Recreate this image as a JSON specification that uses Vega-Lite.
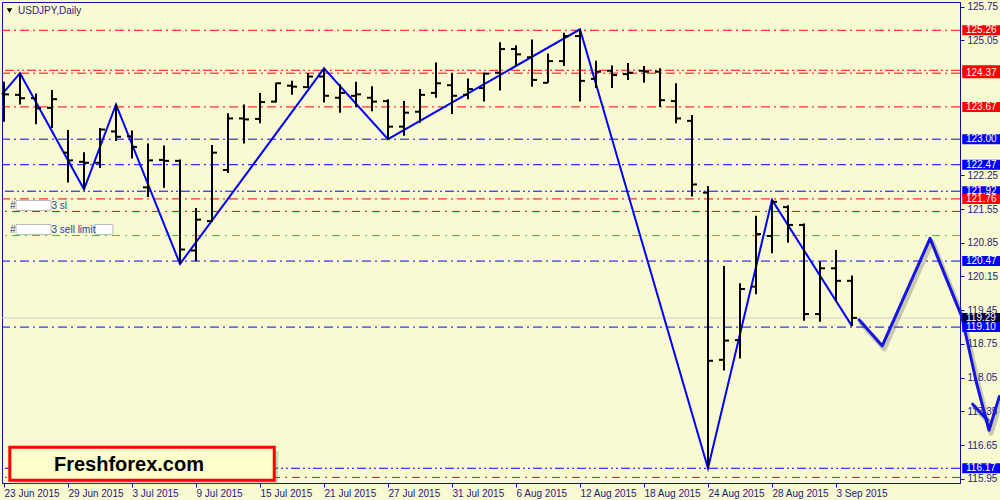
{
"$schema": "https://vega.github.io/schema/vega-lite/v6.json",
"width": 958, "height": 481,
"autosize": {"type": "none"},
"padding": {"left": 2, "top": 2, "right": 40, "bottom": 17},
"background": "#FAFAD2",
"config": {
  "view": {"stroke": "#1010A8", "fill": "#FAFAD2"},
  "axis": {"labelFont": "Liberation Sans", "labelFontSize": 10, "labelColor": "#22227A", "domainColor": "#1010A8", "tickColor": "#1010A8", "grid": false, "tickSize": 4}
},
"datasets": {
  "bars": [
    {"i":0,"o":123.95,"h":124.19,"l":123.36,"c":123.93},
    {"i":1,"o":123.92,"h":124.37,"l":123.72,"c":123.85},
    {"i":2,"o":123.85,"h":123.95,"l":123.31,"c":123.64},
    {"i":3,"o":123.65,"h":124.02,"l":123.23,"c":123.83},
    {"i":4,"o":122.72,"h":123.19,"l":122.10,"c":122.56},
    {"i":5,"o":122.53,"h":122.73,"l":121.96,"c":122.51},
    {"i":6,"o":122.51,"h":123.23,"l":122.40,"c":123.20},
    {"i":7,"o":123.16,"h":123.72,"l":122.96,"c":123.05},
    {"i":8,"o":123.06,"h":123.18,"l":122.60,"c":122.84},
    {"i":9,"o":122.00,"h":122.91,"l":121.80,"c":122.56},
    {"i":10,"o":122.57,"h":122.87,"l":121.99,"c":122.55},
    {"i":11,"o":122.55,"h":122.58,"l":120.41,"c":120.71},
    {"i":12,"o":120.69,"h":121.57,"l":120.47,"c":121.33},
    {"i":13,"o":121.30,"h":122.88,"l":121.28,"c":122.72},
    {"i":14,"o":122.36,"h":123.54,"l":122.30,"c":123.43},
    {"i":15,"o":123.43,"h":123.72,"l":122.91,"c":123.41},
    {"i":16,"o":123.42,"h":123.96,"l":123.33,"c":123.77},
    {"i":17,"o":123.78,"h":124.17,"l":123.76,"c":124.16},
    {"i":18,"o":124.11,"h":124.21,"l":123.92,"c":124.09},
    {"i":19,"o":124.08,"h":124.37,"l":124.06,"c":124.30},
    {"i":20,"o":124.30,"h":124.47,"l":123.76,"c":123.90},
    {"i":21,"o":123.86,"h":124.14,"l":123.55,"c":123.96},
    {"i":22,"o":123.90,"h":124.19,"l":123.67,"c":123.93},
    {"i":23,"o":123.86,"h":124.10,"l":123.58,"c":123.78},
    {"i":24,"o":123.79,"h":123.83,"l":123.00,"c":123.26},
    {"i":25,"o":123.26,"h":123.79,"l":123.07,"c":123.55},
    {"i":26,"o":123.57,"h":124.04,"l":123.34,"c":123.92},
    {"i":27,"o":123.96,"h":124.59,"l":123.86,"c":124.16},
    {"i":28,"o":124.12,"h":124.37,"l":123.52,"c":123.90},
    {"i":29,"o":123.92,"h":124.26,"l":123.83,"c":124.04},
    {"i":30,"o":124.06,"h":124.38,"l":123.78,"c":124.36},
    {"i":31,"o":124.38,"h":125.01,"l":124.01,"c":124.87},
    {"i":32,"o":124.87,"h":124.95,"l":124.52,"c":124.76},
    {"i":33,"o":124.70,"h":125.07,"l":124.09,"c":124.23},
    {"i":34,"o":124.17,"h":124.78,"l":124.17,"c":124.62},
    {"i":35,"o":124.62,"h":125.21,"l":124.52,"c":125.14},
    {"i":36,"o":125.14,"h":125.28,"l":123.78,"c":124.21},
    {"i":37,"o":124.25,"h":124.63,"l":124.06,"c":124.40},
    {"i":38,"o":124.42,"h":124.53,"l":124.06,"c":124.33},
    {"i":39,"o":124.35,"h":124.58,"l":124.23,"c":124.38},
    {"i":40,"o":124.42,"h":124.52,"l":124.17,"c":124.40},
    {"i":41,"o":124.40,"h":124.47,"l":123.67,"c":123.81},
    {"i":42,"o":123.79,"h":124.16,"l":123.33,"c":123.43},
    {"i":43,"o":123.38,"h":123.50,"l":121.81,"c":122.06},
    {"i":44,"o":121.89,"h":122.03,"l":116.17,"c":118.40},
    {"i":45,"o":118.42,"h":120.37,"l":118.20,"c":118.82},
    {"i":46,"o":118.83,"h":120.01,"l":118.45,"c":119.89},
    {"i":47,"o":119.94,"h":121.41,"l":119.78,"c":121.03},
    {"i":48,"o":120.99,"h":121.74,"l":120.63,"c":121.70},
    {"i":49,"o":121.59,"h":121.63,"l":120.85,"c":121.22},
    {"i":50,"o":121.22,"h":121.25,"l":119.23,"c":119.37},
    {"i":51,"o":119.37,"h":120.46,"l":119.21,"c":120.32},
    {"i":52,"o":120.32,"h":120.70,"l":119.63,"c":120.06},
    {"i":53,"o":120.06,"h":120.17,"l":119.12,"c":119.29}
  ],
  "zz": [
    {"i":-0.125,"p":123.93},{"i":1,"p":124.37},{"i":5,"p":121.96},{"i":7,"p":123.72},
    {"i":11,"p":120.41},{"i":20,"p":124.47},{"i":24,"p":123.00},{"i":36,"p":125.28},
    {"i":44,"p":116.17},{"i":48,"p":121.74},{"i":53,"p":119.12}
  ],
  "proj": [
    {"k":1,"seg":"main","i":53.44,"p":119.25},
    {"k":2,"seg":"main","i":54.89,"p":118.71},
    {"k":3,"seg":"main","i":57.88,"p":120.94},
    {"k":4,"seg":"main","i":59.86,"p":119.32},
    {"k":5,"seg":"main","i":60.79,"p":117.93},
    {"k":6,"seg":"main","i":61.56,"p":116.96},
    {"k":7,"seg":"main","i":62.21,"p":117.66},
    {"k":1,"seg":"arm","i":60.54,"p":117.50},
    {"k":2,"seg":"arm","i":61.46,"p":117.17}
  ],
  "levels": [
    {"p":125.26,"side":"sell","ls":"dd","tag":"full"},
    {"p":124.43,"side":"sell","ls":"ddd","tag":"box"},
    {"p":124.37,"side":"sell","ls":"dd","tag":"full"},
    {"p":123.67,"side":"sell","ls":"dd","tag":"full"},
    {"p":123.00,"side":"buy","ls":"dd","tag":"full"},
    {"p":122.47,"side":"buy","ls":"dd","tag":"full"},
    {"p":121.92,"side":"buy","ls":"ddd","tag":"full"},
    {"p":121.76,"side":"sell","ls":"dd","tag":"full"},
    {"p":121.50,"side":"sell","ls":"d","tag":"none"},
    {"p":121.00,"side":"limit","ls":"d","tag":"none"},
    {"p":120.47,"side":"buy","ls":"dd","tag":"full"},
    {"p":119.29,"side":"bid","ls":"s","tag":"full"},
    {"p":119.10,"side":"buy","ls":"dd","tag":"full"},
    {"p":116.17,"side":"buy","ls":"ddd","tag":"full"},
    {"p":115.98,"side":"old","ls":"d","tag":"none"}
  ],
  "orders": [
    {"txt":"3 sl","p":121.623},
    {"txt":"3 sell limit","p":121.125}
  ],
  "one": [{}]
},
"layer": [
  {
    "data": {"name": "levels"},
    "mark": {"type": "rule", "strokeWidth": 1},
    "encoding": {
      "y": {"field": "p", "type": "quantitative", "title": null, "scale": {"domain": [115.864, 125.847], "nice": false, "zero": false},
        "axis": {"title": null, "orient": "right", "values": [125.75,125.05,122.25,121.55,120.85,120.15,119.45,118.75,118.05,117.35,116.65,115.95], "format": ".2f", "labelAlign": "left", "labelBaseline": "middle", "labelPadding": 3, "labelOverlap": false, "labelFlush": false}},
      "color": {"field": "side", "type": "nominal", "legend": null, "scale": {"domain": ["sell","buy","limit","bid","old"], "range": ["#FF0000","#0000FF","#32CD32","#CFCFCF","#B22222"]}},
      "strokeDash": {"field": "ls", "type": "nominal", "legend": null, "scale": {"domain": ["dd","ddd","d","s"], "range": [[9,4,2,4],[9,3,2,3,2,3],[8,5,2,5],[1,0]]}}
    }
  },
  {
    "data": {"name": "zz"},
    "mark": {"type": "line", "color": "#0000FF", "strokeWidth": 2},
    "encoding": {
      "x": {"field": "i", "type": "quantitative", "title": null, "scale": {"domain": [-0.125, 59.75], "nice": false, "zero": false},
        "axis": {"title": null, "orient": "bottom", "values": [0,4,8,12,16,20,24,28,32,36,40,44,48,52], "labelAlign": "left", "labelBaseline": "top", "labelPadding": 1, "labelDx": 1, "labelOverlap": false, "labelFlush": false,
          "labelExpr": "['23 Jun 2015','29 Jun 2015','3 Jul 2015','9 Jul 2015','15 Jul 2015','21 Jul 2015','27 Jul 2015','31 Jul 2015','6 Aug 2015','12 Aug 2015','18 Aug 2015','24 Aug 2015','28 Aug 2015','3 Sep 2015'][round(datum.value/4)]"}},
      "y": {"field": "p", "type": "quantitative", "title": null}
    }
  },
  {
    "data": {"name": "bars"},
    "mark": {"type": "rule", "color": "#000000", "strokeWidth": 2},
    "encoding": {
      "x": {"field": "i", "type": "quantitative", "title": null},
      "y": {"field": "l", "type": "quantitative", "title": null},
      "y2": {"field": "h"}
    }
  },
  {
    "data": {"name": "bars"},
    "mark": {"type": "rule", "color": "#000000", "strokeWidth": 2, "xOffset": -5, "clip": true},
    "encoding": {
      "x": {"field": "i", "type": "quantitative", "title": null},
      "x2": {"field": "i"},
      "y": {"field": "o", "type": "quantitative", "title": null}
    }
  },
  {
    "data": {"name": "bars"},
    "mark": {"type": "rule", "color": "#000000", "strokeWidth": 2, "x2Offset": 5},
    "encoding": {
      "x": {"field": "i", "type": "quantitative", "title": null},
      "x2": {"field": "i"},
      "y": {"field": "c", "type": "quantitative", "title": null}
    }
  },
  {
    "data": {"name": "proj"},
    "mark": {"type": "line", "color": "#555555", "opacity": 0.3, "strokeWidth": 5, "xOffset": 2, "yOffset": 3, "strokeCap": "round", "strokeJoin": "round"},
    "encoding": {
      "x": {"field": "i", "type": "quantitative", "title": null},
      "y": {"field": "p", "type": "quantitative", "title": null},
      "detail": {"field": "seg"},
      "order": {"field": "k"}
    }
  },
  {
    "data": {"name": "proj"},
    "mark": {"type": "line", "color": "#1414E6", "strokeWidth": 3, "strokeCap": "round", "strokeJoin": "round"},
    "encoding": {
      "x": {"field": "i", "type": "quantitative", "title": null},
      "y": {"field": "p", "type": "quantitative", "title": null},
      "detail": {"field": "seg"},
      "order": {"field": "k"}
    }
  },
  {
    "data": {"name": "levels"},
    "transform": [{"filter": "datum.tag != 'none'"}],
    "mark": {"type": "rect", "yOffset": -5, "y2Offset": 5},
    "encoding": {
      "x": {"datum": 59.89, "type": "quantitative", "title": null},
      "x2": {"datum": 62.3},
      "y": {"field": "p", "type": "quantitative", "title": null},
      "y2": {"field": "p"},
      "fill": {"field": "side", "type": "nominal", "legend": null, "scale": {"domain": ["sell","buy","bid"], "range": ["#FF0000","#0000FF","#000040"]}}
    }
  },
  {
    "data": {"name": "levels"},
    "transform": [{"filter": "datum.tag == 'full'"}],
    "mark": {"type": "text", "align": "left", "baseline": "middle", "color": "#FFFFFF", "font": "Liberation Sans", "fontSize": 10},
    "encoding": {
      "x": {"datum": 60.125, "type": "quantitative", "title": null},
      "y": {"field": "p", "type": "quantitative", "title": null},
      "text": {"field": "p", "type": "quantitative", "format": ".2f"}
    }
  },
  {
    "data": {"name": "one"},
    "mark": {"type": "rect", "fill": "#777777", "opacity": 0.35, "xOffset": 4, "x2Offset": 4, "yOffset": 4, "y2Offset": 4},
    "encoding": {
      "x": {"datum": 0.3625, "type": "quantitative", "title": null},
      "x2": {"datum": 16.89},
      "y": {"datum": 116.607, "type": "quantitative", "title": null},
      "y2": {"datum": 115.922}
    }
  },
  {
    "data": {"name": "one"},
    "mark": {"type": "rect", "fill": "#FFFFCC", "stroke": "#FF0000", "strokeWidth": 3},
    "encoding": {
      "x": {"datum": 0.3625, "type": "quantitative", "title": null},
      "x2": {"datum": 16.89},
      "y": {"datum": 116.607, "type": "quantitative", "title": null},
      "y2": {"datum": 115.922}
    }
  },
  {
    "data": {"name": "one"},
    "mark": {"type": "text", "text": "Freshforex.com", "font": "Liberation Sans", "fontWeight": "bold", "fontSize": 20, "color": "#000000", "align": "center", "baseline": "middle"},
    "encoding": {
      "x": {"datum": 7.81, "type": "quantitative", "title": null},
      "y": {"datum": 116.237, "type": "quantitative", "title": null}
    }
  },
  {
    "data": {"name": "one"},
    "mark": {"type": "point", "shape": "triangle-down", "filled": true, "color": "#000000", "size": 30, "opacity": 1},
    "encoding": {
      "x": {"datum": 0.344, "type": "quantitative", "title": null},
      "y": {"datum": 125.67, "type": "quantitative", "title": null}
    }
  },
  {
    "data": {"name": "one"},
    "mark": {"type": "text", "text": "USDJPY,Daily", "font": "Liberation Sans", "fontSize": 10, "color": "#22227A", "align": "left", "baseline": "middle"},
    "encoding": {
      "x": {"datum": 0.875, "type": "quantitative", "title": null},
      "y": {"datum": 125.66, "type": "quantitative", "title": null}
    }
  },
  {
    "data": {"name": "orders"},
    "mark": {"type": "text", "text": "#", "font": "Liberation Sans", "fontSize": 10, "color": "#2B3A9A", "align": "left", "baseline": "middle"},
    "encoding": {
      "x": {"datum": 0.375, "type": "quantitative", "title": null},
      "y": {"field": "p", "type": "quantitative", "title": null}
    }
  },
  {
    "data": {"name": "orders"},
    "mark": {"type": "rect", "fill": "#FFFFFF", "stroke": "#BBBBBB", "strokeWidth": 1, "yOffset": -5, "y2Offset": 5},
    "encoding": {
      "x": {"datum": 0.75, "type": "quantitative", "title": null},
      "x2": {"datum": 2.94},
      "y": {"field": "p", "type": "quantitative", "title": null},
      "y2": {"field": "p"}
    }
  },
  {
    "data": {"name": "orders"},
    "transform": [{"filter": "datum.txt == '3 sell limit'"}],
    "mark": {"type": "rect", "fill": "#FFFFFF", "stroke": "#BBBBBB", "strokeWidth": 1, "yOffset": -5, "y2Offset": 5},
    "encoding": {
      "x": {"datum": 5.69, "type": "quantitative", "title": null},
      "x2": {"datum": 6.81},
      "y": {"field": "p", "type": "quantitative", "title": null},
      "y2": {"field": "p"}
    }
  },
  {
    "data": {"name": "orders"},
    "mark": {"type": "text", "font": "Liberation Sans", "fontSize": 10, "color": "#2B3A9A", "align": "left", "baseline": "middle"},
    "encoding": {
      "x": {"datum": 2.97, "type": "quantitative", "title": null},
      "y": {"field": "p", "type": "quantitative", "title": null},
      "text": {"field": "txt"}
    }
  }
]
}
